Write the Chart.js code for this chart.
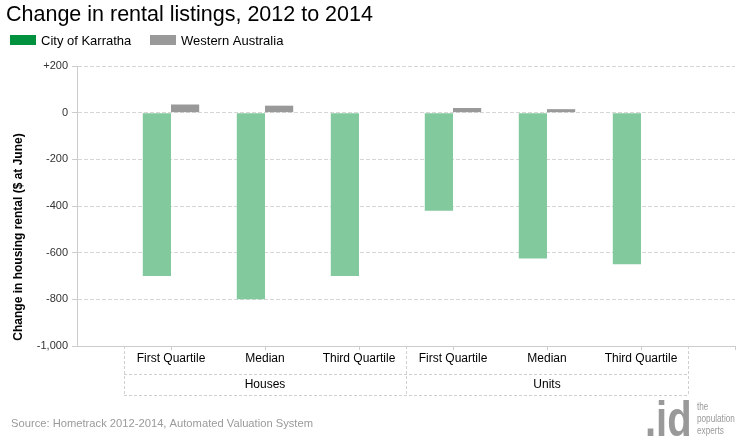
<!DOCTYPE html>
<html>
<head>
<meta charset="utf-8">
<script src="https://cdn.jsdelivr.net/npm/chart.js@4/dist/chart.umd.min.js"></script>
<style>
  html, body { margin: 0; padding: 0; background: #fff; }
  #wrap { width: 740px; height: 440px; position: relative; }
</style>
</head>
<body>
<div id="wrap"><canvas id="c" width="740" height="440"></canvas></div>
<script>
// ---- data ----
const chartTitle = 'Change in rental listings, 2012 to 2014';
const yAxisTitle = 'Change in housing rental ($ at June)';
const sourceText = 'Source: Hometrack 2012-2014, Automated Valuation System';
const categories = ['First Quartile', 'Median', 'Third Quartile', 'First Quartile', 'Median', 'Third Quartile'];
const groups = ['Houses', 'Units'];
const groupSizes = [3, 3];
const seriesNames = ['City of Karratha', 'Western Australia'];
const karratha = [-700, -800, -700, -420, -625, -650];
const westernAustralia = [35, 30, 0, 20, 15, 0];
const yTicks = [200, 0, -200, -400, -600, -800, -1000];

// ---- styles ----
const barColors = ['#82ca9e', '#999999'];
const legendColors = ['#00913f', '#999999'];
const FONT = 'Arial, "Liberation Sans", sans-serif';

// padded category labels (half-category margin at each end)
const xLabels = [''].concat(categories, ['']);
const pad = arr => [null].concat(arr, [null]);

function fmtTick(v) {
  const s = Math.abs(v).toLocaleString('en-US');
  if (v > 0) return '+' + s;
  if (v < 0) return '-' + s;
  return '0';
}

const decor = {
  id: 'decor',
  afterDraw(chart) {
    const ctx = chart.ctx;
    const xs = chart.scales.x;
    const area = chart.chartArea;
    ctx.save();

    // title
    ctx.fillStyle = '#000';
    ctx.font = '21.5px ' + FONT;
    ctx.textBaseline = 'alphabetic';
    ctx.textAlign = 'left';
    ctx.fillText(chartTitle, 6, 21);

    // legend
    ctx.font = '13px ' + FONT;
    let lx = 10;
    seriesNames.forEach((name, i) => {
      ctx.fillStyle = legendColors[i];
      ctx.fillRect(lx, 35, 26, 10);
      ctx.fillStyle = '#000';
      ctx.fillText(name, lx + 31, 45);
      lx += 140;
    });

    // y-axis title
    ctx.save();
    ctx.translate(22, 237);
    ctx.rotate(-Math.PI / 2);
    ctx.font = 'bold 12px ' + FONT;
    ctx.textAlign = 'center';
    ctx.textBaseline = 'alphabetic';
    ctx.fillStyle = '#000';
    ctx.fillText(yAxisTitle, 0, 0);
    ctx.restore();

    // x tick marks
    ctx.strokeStyle = '#cccccc';
    ctx.lineWidth = 1;
    for (let i = 1; i < xLabels.length; i++) {
      const px = Math.round(xs.getPixelForValue(i)) + 0.5;
      ctx.beginPath();
      ctx.moveTo(px, area.bottom);
      ctx.lineTo(px, area.bottom + 4);
      ctx.stroke();
    }

    // category label box
    const top = area.bottom;
    const mid = area.bottom + 28.5;
    const bot = area.bottom + 49.5;
    const leftPx = xs.getPixelForValue(0.5);
    const rightPx = xs.getPixelForValue(categories.length + 0.5);
    ctx.setLineDash([3, 2]);
    ctx.strokeStyle = '#d0d0d0';
    ctx.beginPath();
    ctx.moveTo(leftPx, mid); ctx.lineTo(rightPx, mid);
    ctx.moveTo(leftPx, bot); ctx.lineTo(rightPx, bot);
    let idx = 0.5;
    const bounds = [idx];
    groupSizes.forEach(n => { idx += n; bounds.push(idx); });
    bounds.forEach(b => {
      const px = Math.round(xs.getPixelForValue(b)) + 0.5;
      ctx.moveTo(px, top); ctx.lineTo(px, bot);
    });
    ctx.stroke();
    ctx.setLineDash([]);

    ctx.fillStyle = '#000';
    ctx.font = '12px ' + FONT;
    ctx.textAlign = 'center';
    ctx.textBaseline = 'middle';
    categories.forEach((c, i) => {
      ctx.fillText(c, xs.getPixelForValue(i + 1), top + 13);
    });
    groups.forEach((g, gi) => {
      const a = xs.getPixelForValue(bounds[gi]);
      const b = xs.getPixelForValue(bounds[gi + 1]);
      ctx.fillText(g, (a + b) / 2, mid + 10.5);
    });

    // source
    ctx.textAlign = 'left';
    ctx.textBaseline = 'alphabetic';
    ctx.fillStyle = '#9a9a9a';
    ctx.font = '11.2px ' + FONT;
    ctx.fillText(sourceText, 11, 427);

    // logo
    ctx.fillStyle = '#999999';
    ctx.font = 'bold 50px ' + FONT;
    ctx.save();
    ctx.translate(645, 436);
    ctx.scale(0.8, 1);
    ctx.fillText('.id', 0, 0);
    ctx.restore();
    ctx.save();
    ctx.translate(697, 0);
    ctx.scale(0.82, 1);
    ctx.font = '10px ' + FONT;
    ctx.fillStyle = '#9a9a9a';
    ctx.fillText('the', 0, 410);
    ctx.fillText('population', 0, 422);
    ctx.fillText('experts', 0, 434);
    ctx.restore();

    ctx.restore();
  }
};

new Chart(document.getElementById('c'), {
  type: 'bar',
  data: {
    labels: xLabels,
    datasets: [
      { label: seriesNames[0], data: pad(karratha), backgroundColor: barColors[0], borderWidth: 0 },
      { label: seriesNames[1], data: pad(westernAustralia), backgroundColor: barColors[1], borderWidth: 0 }
    ]
  },
  options: {
    responsive: false,
    animation: false,
    events: [],
    layout: { padding: { top: 66, right: 5, left: 0, bottom: 0 } },
    datasets: { bar: { categoryPercentage: 0.6, barPercentage: 1.0 } },
    plugins: { legend: { display: false }, title: { display: false }, tooltip: { enabled: false } },
    scales: {
      x: {
        type: 'category',
        offset: false,
        grid: { display: false },
        ticks: { display: false },
        border: { display: true, color: '#cccccc', width: 1 },
        afterFit(s) { s.height = 94; }
      },
      y: {
        min: -1000,
        max: 200,
        afterBuildTicks(s) { s.ticks = yTicks.map(v => ({ value: v })); },
        ticks: {
          callback: v => fmtTick(v),
          color: '#333333',
          font: { family: FONT, size: 11 },
          padding: 4
        },
        grid: { color: '#d6d6d6', tickLength: 5, tickColor: '#cccccc', tickBorderDash: [] },
        border: { display: true, color: '#cccccc', width: 1, dash: [4, 2] },
        afterFit(s) { s.width = 77; }
      }
    }
  },
  plugins: [decor]
});
</script>
</body>
</html>
